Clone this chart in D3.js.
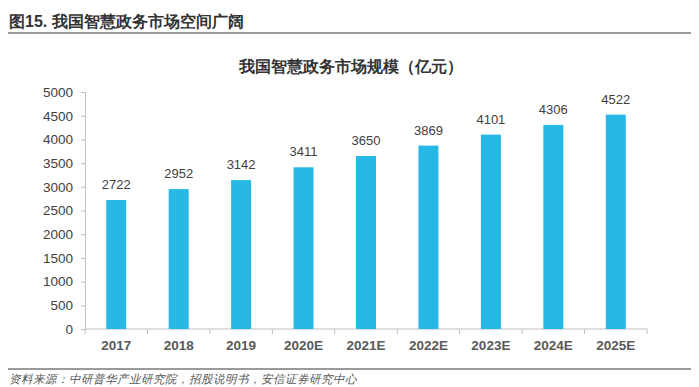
<!DOCTYPE html>
<html>
<head>
<meta charset="utf-8">
<script src="https://cdn.jsdelivr.net/npm/d3@7/dist/d3.min.js"></script>
<style>
  body { margin: 0; background: #fff; }
  text { font-family: "Liberation Sans", Arial, sans-serif; }
</style>
</head>
<body>
<div class="canvas"></div>
<script>
// data
const years = ["2017", "2018", "2019", "2020E", "2021E", "2022E", "2023E", "2024E", "2025E"];
const values = [2722, 2952, 3142, 3411, 3650, 3869, 4101, 4306, 4522];
const yTicks = [0, 500, 1000, 1500, 2000, 2500, 3000, 3500, 4000, 4500, 5000];

// dimensions
const w = 699;
const h = 387;
const margin = { top: 92, right: 52, bottom: 58, left: 85 };
const graphWidth = w - margin.left - margin.right;
const graphHeight = h - margin.top - margin.bottom;

const svg = d3.select(".canvas").append("svg").attr("width", w).attr("height", h);

// header
svg.append("text")
  .attr("x", 9).attr("y", 27)
  .attr("font-family", "'Noto Sans CJK SC', sans-serif")
  .attr("font-weight", "bold")
  .attr("font-size", 16)
  .attr("fill", "#333")
  .text("图15. 我国智慧政务市场空间广阔");

svg.append("line")
  .attr("x1", 8).attr("x2", 691).attr("y1", 33).attr("y2", 33)
  .attr("stroke", "#9a9a9a").attr("stroke-width", 2);

// chart title
svg.append("text")
  .attr("x", 351).attr("y", 72)
  .attr("text-anchor", "middle")
  .attr("font-family", "'Noto Sans CJK SC', sans-serif")
  .attr("font-weight", "bold")
  .attr("font-size", 16)
  .attr("fill", "#333")
  .text("我国智慧政务市场规模（亿元）");

const graph = svg.append("g")
  .attr("transform", `translate(${margin.left}, ${margin.top})`);

const xScale = d3.scaleBand()
  .domain(years)
  .range([0, graphWidth])
  .paddingInner(0.68)
  .paddingOuter(0.34);

const yScale = d3.scaleLinear()
  .domain([0, 5000])
  .range([graphHeight, 0]);

// y axis
const yAxis = graph.append("g")
  .call(d3.axisLeft(yScale).tickValues(yTicks).tickFormat(d3.format("d")).tickSize(4).tickPadding(8));
yAxis.selectAll("path, line").attr("stroke", "#bfbfbf");
yAxis.selectAll("text")
  .attr("font-size", 13.5)
  .attr("fill", "#404040")
  .attr("font-family", "'Liberation Sans', Arial, sans-serif");

// x axis: ticks at band boundaries
const xAxis = graph.append("g")
  .attr("transform", `translate(0, ${graphHeight})`);
xAxis.append("line")
  .attr("x1", 0).attr("x2", graphWidth)
  .attr("stroke", "#bfbfbf");
xAxis.selectAll(".tick")
  .data(d3.range(years.length + 1))
  .join("line")
  .attr("x1", (i) => i * graphWidth / years.length)
  .attr("x2", (i) => i * graphWidth / years.length)
  .attr("y1", 0).attr("y2", 5)
  .attr("stroke", "#bfbfbf");
xAxis.selectAll(".lbl")
  .data(years)
  .join("text")
  .attr("x", (d) => xScale(d) + xScale.bandwidth() / 2)
  .attr("y", 21)
  .attr("text-anchor", "middle")
  .attr("font-size", 13.5)
  .attr("font-weight", "bold")
  .attr("fill", "#595959")
  .text((d) => d);

// bars
graph.selectAll("rect")
  .data(values)
  .join("rect")
  .attr("x", (d, i) => xScale(years[i]))
  .attr("y", (d) => yScale(d))
  .attr("width", xScale.bandwidth())
  .attr("height", (d) => graphHeight - yScale(d))
  .attr("fill", "#27b8e6");

// value labels
graph.selectAll(".val")
  .data(values)
  .join("text")
  .attr("x", (d, i) => xScale(years[i]) + xScale.bandwidth() / 2)
  .attr("y", (d) => yScale(d) - 11)
  .attr("text-anchor", "middle")
  .attr("font-size", 13)
  .attr("fill", "#404040")
  .attr("font-family", "Carlito, 'Open Sans', sans-serif")
  .text((d) => d);

// footer
svg.append("line")
  .attr("x1", 8).attr("x2", 691).attr("y1", 369).attr("y2", 369)
  .attr("stroke", "#9a9a9a").attr("stroke-width", 2);

svg.append("text")
  .attr("x", 9).attr("y", 383)
  .attr("font-family", "'Noto Sans CJK SC', sans-serif")
  .attr("font-style", "italic")
  .attr("font-size", 11.5)
  .attr("fill", "#555")
  .text("资料来源：中研普华产业研究院，招股说明书，安信证券研究中心");
</script>
</body>
</html>
